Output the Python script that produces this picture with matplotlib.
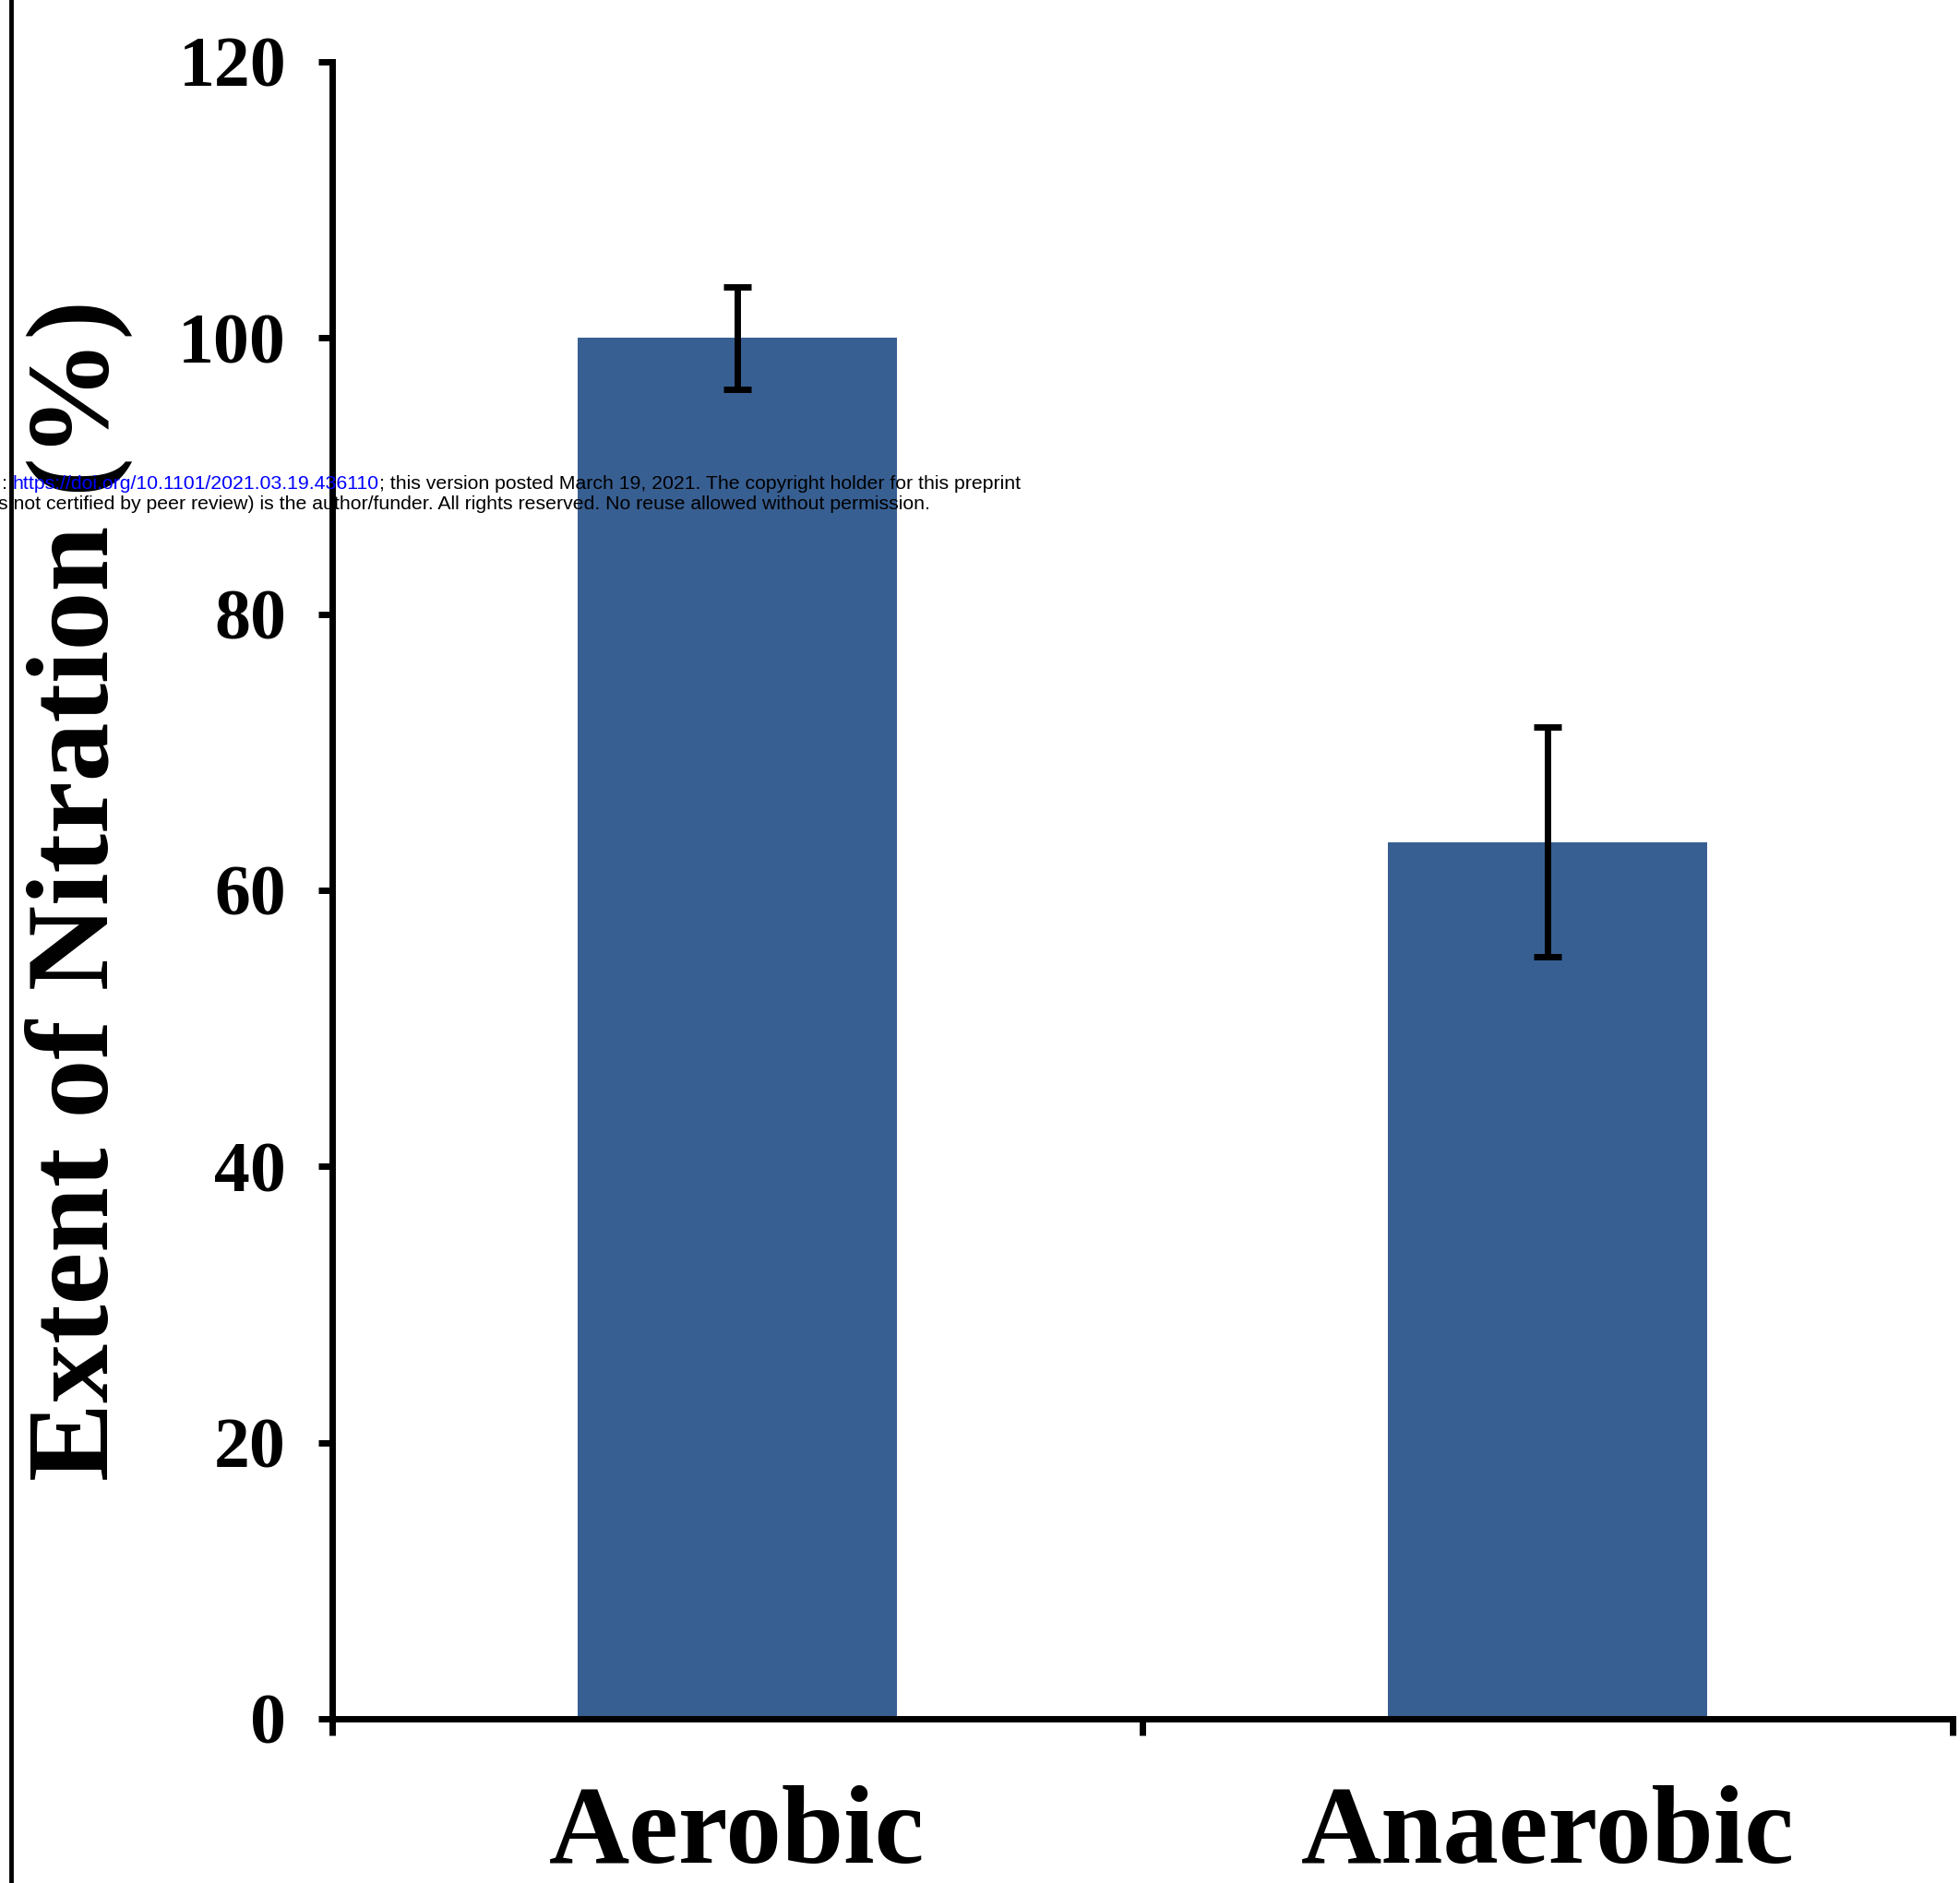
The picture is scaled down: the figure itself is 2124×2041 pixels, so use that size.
import matplotlib
matplotlib.use("Agg")
import matplotlib.pyplot as plt
from matplotlib.lines import Line2D
from matplotlib.text import Annotation

# ---------------------------------------------------------
# DATA
# ---------------------------------------------------------
categories = ["Aerobic", "Anaerobic"]
nitration = [100.0, 63.5]
errors = [3.7, 8.3]
y_ticks = [0, 20, 40, 60, 80, 100, 120]
y_label = "Extent of Nitration (%)"

wm_prefix = ": "
wm_url = "https://doi.org/10.1101/2021.03.19.436110"
wm_rest = "; this version posted March 19, 2021. The copyright holder for this preprint"
wm_line2 = "s not certified by peer review) is the author/funder. All rights reserved. No reuse allowed without permission."

# ---------------------------------------------------------
# STYLE
# ---------------------------------------------------------
W, H, DPI = 2124, 2041, 100
BAR_COLOR = "#385f92"
LW = 5

plt.rcParams["font.family"] = ["Liberation Serif", "DejaVu Serif"]
plt.rcParams["font.weight"] = "bold"

fig = plt.figure(figsize=(W / DPI, H / DPI), dpi=DPI)
ax = fig.add_axes([360 / W, 1 - 1863 / H, (2116 - 360) / W, (1863 - 67) / H])

pos = list(range(len(categories)))
ax.bar(pos, nitration, width=0.395, color=BAR_COLOR, zorder=2)
ax.errorbar(pos, nitration, yerr=errors, fmt="none", ecolor="black",
            elinewidth=5, capsize=11, capthick=5, zorder=3)

ax.set_xlim(-0.5, 1.5)
ax.set_ylim(0, 120)

for side in ["top", "right"]:
    ax.spines[side].set_visible(False)
for side in ["left", "bottom"]:
    ax.spines[side].set_linewidth(LW)

ax.set_yticks(y_ticks)
ax.set_yticklabels([str(v) for v in y_ticks], fontsize=56, fontweight="bold")
ax.tick_params(axis="y", direction="out", length=11, width=LW, pad=25)

ax.set_xticks(pos)
ax.set_xticklabels(categories, fontsize=87, fontweight="bold")
ax.set_xticks([-0.5, 0.5, 1.5], minor=True)
ax.tick_params(axis="x", which="major", length=0, pad=52)
ax.tick_params(axis="x", which="minor", direction="out", length=13, width=LW)

fig.text(85 / W, 1 - 965 / H, y_label, rotation=90, ha="center", va="center",
         fontsize=92, fontweight="bold")

# page border on the left
fig.add_artist(Line2D([12 / W, 12 / W], [0, 1], transform=fig.transFigure,
                      color="black", lw=3.5))

# preprint watermark
wm = dict(fontsize=15.3, fontweight="normal", family="Liberation Sans", zorder=10)
t0 = fig.text(2 / W, 1 - 530 / H, wm_prefix, color="black", va="baseline", **wm)
t1 = fig.add_artist(Annotation(wm_url, xy=(1, 0), xycoords=t0, ha="left",
                               va="bottom", color="blue", **wm))
fig.add_artist(Annotation(wm_rest, xy=(1, 0), xycoords=t1, ha="left",
                          va="bottom", color="black", **wm))
fig.text(-2 / W, 1 - 552 / H, wm_line2, color="black", va="baseline", **wm)

fig.savefig("out.png", dpi=DPI)
